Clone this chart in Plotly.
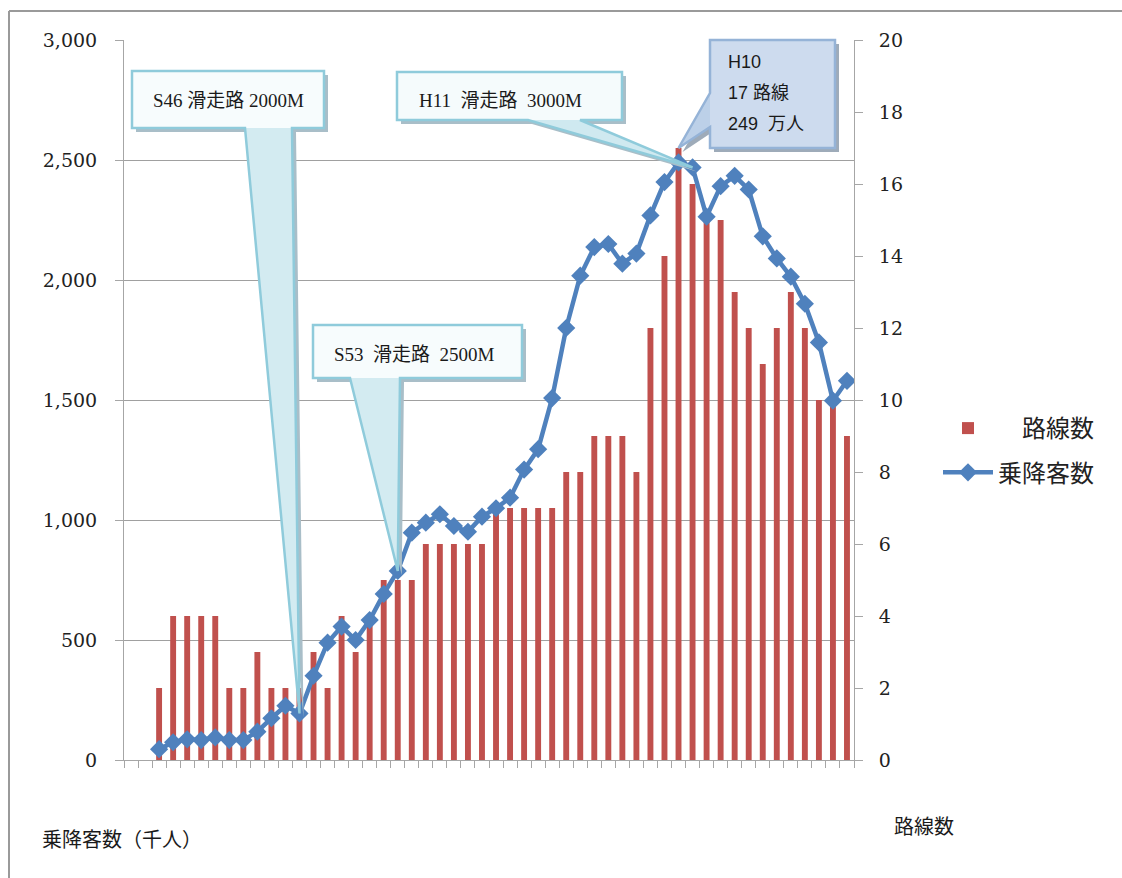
import plotly.graph_objects as go

# ---- data ----
years = list(range(1961, 2011))
routes = [2, 4, 4, 4, 4, 2, 2, 3, 2, 2,
          2, 3, 2, 4, 3, 4, 5, 5, 5, 6,
          6, 6, 6, 6, 7, 7, 7, 7, 7, 8,
          8, 9, 9, 9, 8, 12, 14, 17, 16, 15,
          15, 13, 12, 11, 12, 13, 12, 10, 10, 9]
passengers = [45, 74, 86, 83, 94, 83, 83, 118, 174, 226,
              194, 351, 489, 556, 500, 583, 692, 788, 947, 989,
              1024, 975, 951, 1014, 1049, 1093, 1210, 1295, 1508, 1800,
              2018, 2137, 2150, 2068, 2110, 2269, 2408, 2490, 2469, 2264,
              2391, 2434, 2377, 2182, 2090, 2014, 1901, 1740, 1497, 1580]
bar_name = "　路線数"
line_name = "乗降客数"
left_title = "乗降客数（千人）"
right_title = "路線数"

X_MIN, X_MAX = 1958.5, 2010.5
Y1_MAX, Y2_MAX = 3000, 20

# ---- layout geometry (pixels) ----
W, H = 1122, 878
L, R, T, B = 124, 854, 40, 760


def px(x):
    return (x - L) / (R - L)


def py(y):
    return (B - y) / (B - T)


def xp(year):
    return (year - X_MIN) / (X_MAX - X_MIN)


fig = go.Figure()
fig.add_trace(go.Bar(
    x=years, y=routes, name=bar_name, yaxis="y",
    marker=dict(color="#C0504D", line=dict(width=0)), width=0.42,
    legendgroup="a"))
fig.add_trace(go.Scatter(
    x=years, y=passengers, name=line_name, yaxis="y2", mode="lines+markers",
    line=dict(color="#4F81BD", width=4.5),
    marker=dict(symbol="diamond", size=14, color="#4F81BD"),
    legendgroup="b"))

tick_font = dict(family="DejaVu Serif", size=19, color="#222222")
axis_grey = "#a6a6a6"

fig.update_layout(
    width=W, height=H,
    margin=dict(l=L, r=W - R, t=T, b=H - B, pad=0),
    paper_bgcolor="white", plot_bgcolor="white",
    showlegend=True,
    legend=dict(x=px(938), y=py(406), xanchor="left", yanchor="top",
                font=dict(family="Noto Sans CJK JP", size=24, color="#222"),
                bgcolor="rgba(0,0,0,0)", traceorder="grouped",
                tracegroupgap=10, itemwidth=50),
    xaxis=dict(range=[X_MIN, X_MAX], showgrid=False, zeroline=False,
               showticklabels=False, showline=True, linecolor=axis_grey,
               linewidth=1, ticks="outside", ticklen=7, tickcolor=axis_grey,
               tickvals=[X_MIN + i for i in range(int(X_MAX - X_MIN) + 1)]),
    yaxis=dict(side="right", range=[0, Y2_MAX], dtick=2, showgrid=False,
               zeroline=False, showline=True, linecolor=axis_grey,
               ticks="outside", ticklen=8, tickcolor=axis_grey,
               tickfont=tick_font, ticklabelstandoff=12),
    yaxis2=dict(side="left", overlaying="y", range=[0, Y1_MAX], dtick=500,
                tickformat=",", showgrid=True, gridcolor="#a0a0a0",
                gridwidth=1, zeroline=False, showline=True,
                linecolor=axis_grey, ticks="outside", ticklen=8,
                tickcolor=axis_grey, tickfont=tick_font,
                ticklabelstandoff=14),
    bargap=0.5,
)

shapes = []
annotations = []

# outer frame (top and left edges)
frame_col = "#9a9a9a"
shapes.append(dict(type="line", xref="paper", yref="paper",
                   x0=px(9), x1=px(9), y0=py(11), y1=py(H + 5),
                   line=dict(color=frame_col, width=2)))
shapes.append(dict(type="line", xref="paper", yref="paper",
                   x0=px(9), x1=px(W + 5), y0=py(11), y1=py(11),
                   line=dict(color=frame_col, width=2)))


def path_of(pts):
    s = "M {:.5f},{:.5f}".format(*pts[0])
    for p in pts[1:]:
        s += " L {:.5f},{:.5f}".format(*p)
    return s + " Z"


def callout(box, base, tip, where, border, box_fill, ptr_fill, shadow):
    l, t, r, b = box
    P = lambda x, y: (px(x), py(y))
    if where == "bottom":
        b1, b2 = base
        outline = [P(l, t), P(r, t), P(r, b), P(b2, b), tip, P(b1, b), P(l, b)]
        tri = [P(b1, b), tip, P(b2, b)]
    else:  # left edge
        b1, b2 = base
        outline = [P(l, t), P(r, t), P(r, b), P(l, b), P(l, b2), tip, P(l, b1)]
        tri = [P(l, b1), tip, P(l, b2)]
    dx, dy = 4 / (R - L), -4 / (B - T)
    sh = [(x + dx, y + dy) for x, y in outline]
    shapes.append(dict(type="path", xref="paper", yref="paper",
                       path=path_of(sh), fillcolor=shadow,
                       line=dict(width=0), layer="above"))
    shapes.append(dict(type="path", xref="paper", yref="paper",
                       path=path_of(outline), fillcolor=box_fill,
                       line=dict(width=0), layer="above"))
    shapes.append(dict(type="path", xref="paper", yref="paper",
                       path=path_of(tri), fillcolor=ptr_fill,
                       line=dict(width=0), layer="above"))
    shapes.append(dict(type="path", xref="paper", yref="paper",
                       path=path_of(outline), fillcolor="rgba(0,0,0,0)",
                       line=dict(color=border, width=2.5), layer="above"))


cyan_border = "#8fcbdb"
cyan_shadow = "#a9bec8"

# S46 runway 2000M -> points to 1971 passengers
i46 = years.index(1971)
callout((132, 71, 324, 128), (245, 292),
        (xp(1971), passengers[i46] / Y1_MAX), "bottom",
        cyan_border, "#f7fcfd", "#d3ebf1", cyan_shadow)
# H11 runway 3000M -> points to 1999 passengers
i11 = years.index(1999)
callout((397, 72, 622, 120), (528, 580),
        (xp(1999), passengers[i11] / Y1_MAX), "bottom",
        cyan_border, "#f5fbfc", "#cfe9f0", cyan_shadow)
# S53 runway 2500M -> points to 1978 passengers
i53 = years.index(1978)
callout((313, 325, 522, 378), (350, 400),
        (xp(1978), passengers[i53] / Y1_MAX), "bottom",
        cyan_border, "#f7fcfd", "#d3ebf1", cyan_shadow)
# H10 peak -> points to 1998 route bar top
i10 = years.index(1998)
callout((710, 40, 835, 148), (93, 127),
        (xp(1998), routes[i10] / Y2_MAX), "left",
        "#95b3d7", "#cddbee", "#bcd0e8", "#9eabb9")

serif_cjk = "Liberation Serif, Noto Sans CJK JP"
sans_cjk = "Liberation Sans, Noto Sans CJK JP"


def text(x, y, s, font, size, anchor="center"):
    annotations.append(dict(x=px(x), y=py(y), xref="paper", yref="paper",
                            text=s, showarrow=False, xanchor=anchor,
                            yanchor="middle",
                            font=dict(family=font, size=size, color="#1a1a1a")))


text(228, 100, "S46 滑走路 2000M", serif_cjk, 19)
text(500, 100, "H11  滑走路  3000M", serif_cjk, 19)
text(414, 354, "S53  滑走路  2500M", serif_cjk, 19)
text(726, 62, "H10", sans_cjk, 18, "left")
text(726, 93, "17 路線", sans_cjk, 18, "left")
text(726, 124, "249  万人", sans_cjk, 18, "left")

# axis captions below the plot
text(40, 838, left_title, "Noto Sans CJK JP", 20, "left")
text(892, 826, right_title, "Noto Sans CJK JP", 20, "left")

fig.update_layout(shapes=shapes, annotations=annotations)
fig.write_html("out.html")
